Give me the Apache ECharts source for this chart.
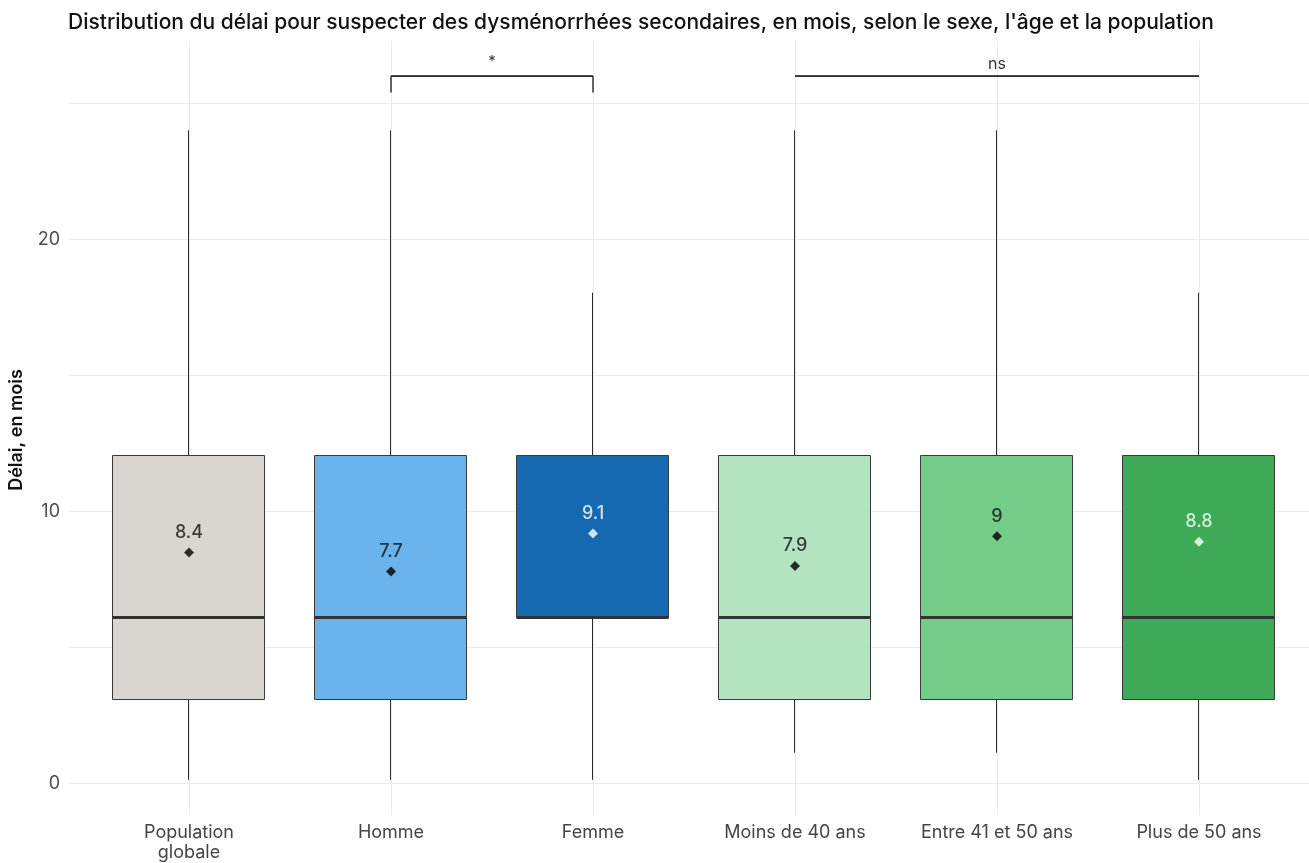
<!DOCTYPE html>
<html>
<head>
<meta charset="utf-8">
<script src="https://cdn.jsdelivr.net/npm/echarts@6/dist/echarts.min.js"></script>
<style>
  html, body { margin: 0; padding: 0; background: #fff; }
  #chart { width: 1309px; height: 863px; }
</style>
</head>
<body>
<div id="chart"></div>
<script>
// boxplot du délai, en mois

var categories = ['Population\nglobale', 'Homme', 'Femme', 'Moins de 40 ans', 'Entre 41 et 50 ans', 'Plus de 50 ans'];
var whiskerLow  = [0, 0, 0, 1, 1, 0];
var q1Values    = [3, 3, 6, 3, 3, 3];
var medians     = [6, 6, 6, 6, 6, 6];
var q3Values    = [12, 12, 12, 12, 12, 12];
var whiskerHigh = [24, 24, 18, 24, 24, 18];
var means       = [8.4, 7.7, 9.1, 7.9, 9, 8.8];
var yTicks      = [0, 10, 20];

var boxColors  = ['#d9d6d1', '#6bb3ec', '#1469b0', '#b3e3c0', '#73cd89', '#3eaa58'];
var meanColors = ['#000', '#000', '#fff', '#000', '#000', '#fff'];

var boxData = categories.map(function (c, i) {
    return [i, whiskerLow[i], q1Values[i], medians[i], q3Values[i], whiskerHigh[i]];
});
var meanData = means.map(function (m, i) {
    return {
        value: [i, m],
        itemStyle: {color: meanColors[i]},
        label: {color: meanColors[i] === '#000' ? '#111' : '#fff'}
    };
});

var Y_MIN = -1.3, Y_MAX = 27.3;

function renderBox(params, api) {
    var i = api.value(0);
    var lo = api.coord([i, api.value(1)]);
    var q1 = api.coord([i, api.value(2)]);
    var md = api.coord([i, api.value(3)]);
    var q3 = api.coord([i, api.value(4)]);
    var hi = api.coord([i, api.value(5)]);
    var hw = Math.round(api.size([1, 0])[0] * 0.375);
    var x = Math.round(q1[0]) - 0.5;
    var stroke = {stroke: '#2b2b2b', lineWidth: 1};
    return {
        type: 'group',
        children: [
            {type: 'line', shape: {x1: x, y1: hi[1], x2: x, y2: q3[1]}, style: stroke},
            {type: 'line', shape: {x1: x, y1: q1[1], x2: x, y2: lo[1]}, style: stroke},
            {type: 'rect', shape: {x: x - hw, y: Math.round(q3[1]) + 0.5, width: hw * 2, height: Math.round(q1[1] - q3[1])},
             style: {fill: boxColors[params.dataIndex], stroke: '#3a3a3a', lineWidth: 1}},
            {type: 'line', shape: {x1: x - hw, y1: md[1], x2: x + hw, y2: md[1]},
             style: {stroke: '#333', lineWidth: 3}}
        ]
    };
}

var chart = echarts.init(document.getElementById('chart'));
chart.setOption({
    animation: false,
    backgroundColor: '#fff',
    textStyle: {fontFamily: 'Inter, "Noto Sans", sans-serif'},
    title: {
        text: 'Distribution du délai pour suspecter des dysménorrhées secondaires, en mois, selon le sexe, l\'âge et la population',
        left: 63,
        top: 7,
        textStyle: {fontSize: 21, fontWeight: 500, color: '#111'}
    },
    grid: [
        {left: 88, right: 9, top: 41, bottom: 44},
        {left: 68, right: 0, top: 41, bottom: 44}
    ],
    xAxis: [
        {
            type: 'category',
            gridIndex: 0,
            data: categories,
            axisLine: {show: false},
            axisTick: {show: false},
            splitLine: {show: false},
            axisLabel: {fontSize: 18, color: '#444', margin: 8, lineHeight: 20, interval: 0}
        },
        {
            type: 'value',
            gridIndex: 1,
            show: false
        }
    ],
    yAxis: [
        {
            type: 'value',
            gridIndex: 0,
            min: Y_MIN,
            max: Y_MAX,
            show: false
        },
        {
            type: 'value',
            gridIndex: 1,
            min: Y_MIN,
            max: Y_MAX,
            name: 'Délai, en mois',
            nameLocation: 'middle',
            nameGap: 43,
            nameTextStyle: {fontSize: 18, fontWeight: 600, color: '#111'},
            axisLine: {show: false},
            axisTick: {show: false},
            axisLabel: {
                fontSize: 18,
                color: '#4d4d4d',
                margin: 9,
                showMinLabel: false,
                showMaxLabel: false,
                formatter: function (v) { return yTicks.indexOf(v) >= 0 ? String(v) : ''; }
            },
            splitLine: {show: true, showMinLine: false, showMaxLine: false,
                        lineStyle: {color: '#ebebeb', width: 1}}
        }
    ],
    series: [
        {
            // lignes verticales de la grille, sous les boîtes
            type: 'line',
            xAxisIndex: 0,
            yAxisIndex: 0,
            data: [],
            z: 0,
            markLine: {
                silent: true,
                z: 0,
                symbol: 'none',
                label: {show: false},
                lineStyle: {color: '#ebebeb', width: 1, type: 'solid'},
                data: categories.map(function (c) { return {xAxis: c}; })
            }
        },
        {
            type: 'custom',
            xAxisIndex: 0,
            yAxisIndex: 0,
            renderItem: renderBox,
            encode: {x: 0, y: [1, 2, 3, 4, 5]},
            data: boxData,
            z: 2
        },
        {
            type: 'scatter',
            xAxisIndex: 0,
            yAxisIndex: 0,
            symbol: 'diamond',
            symbolSize: 10,
            z: 5,
            label: {show: true, position: 'top', distance: 6, fontSize: 18, fontWeight: 500},
            data: meanData
        },
        {
            type: 'line',
            xAxisIndex: 0,
            yAxisIndex: 0,
            symbol: 'none',
            lineStyle: {color: '#333', width: 1.5},
            data: [[1, 25.4], [1, 26], [2, 26], [2, 25.4]],
            markLine: {
                silent: true,
                symbol: 'none',
                lineStyle: {color: '#333', width: 1.5, type: 'solid'},
                label: {show: true, position: 'middle', formatter: '*', fontSize: 15, color: '#333', distance: 7},
                data: [[{coord: [1, 26]}, {coord: [2, 26]}]]
            }
        },
        {
            type: 'line',
            xAxisIndex: 0,
            yAxisIndex: 0,
            symbol: 'none',
            lineStyle: {color: '#333', width: 1.5},
            data: [[3, 26], [5, 26]],
            markLine: {
                silent: true,
                symbol: 'none',
                lineStyle: {color: '#333', width: 1.5, type: 'solid'},
                label: {show: true, position: 'middle', formatter: 'ns', fontSize: 16, color: '#333', distance: 4},
                data: [[{coord: [3, 26]}, {coord: [5, 26]}]]
            }
        }
    ]
});
</script>
</body>
</html>
